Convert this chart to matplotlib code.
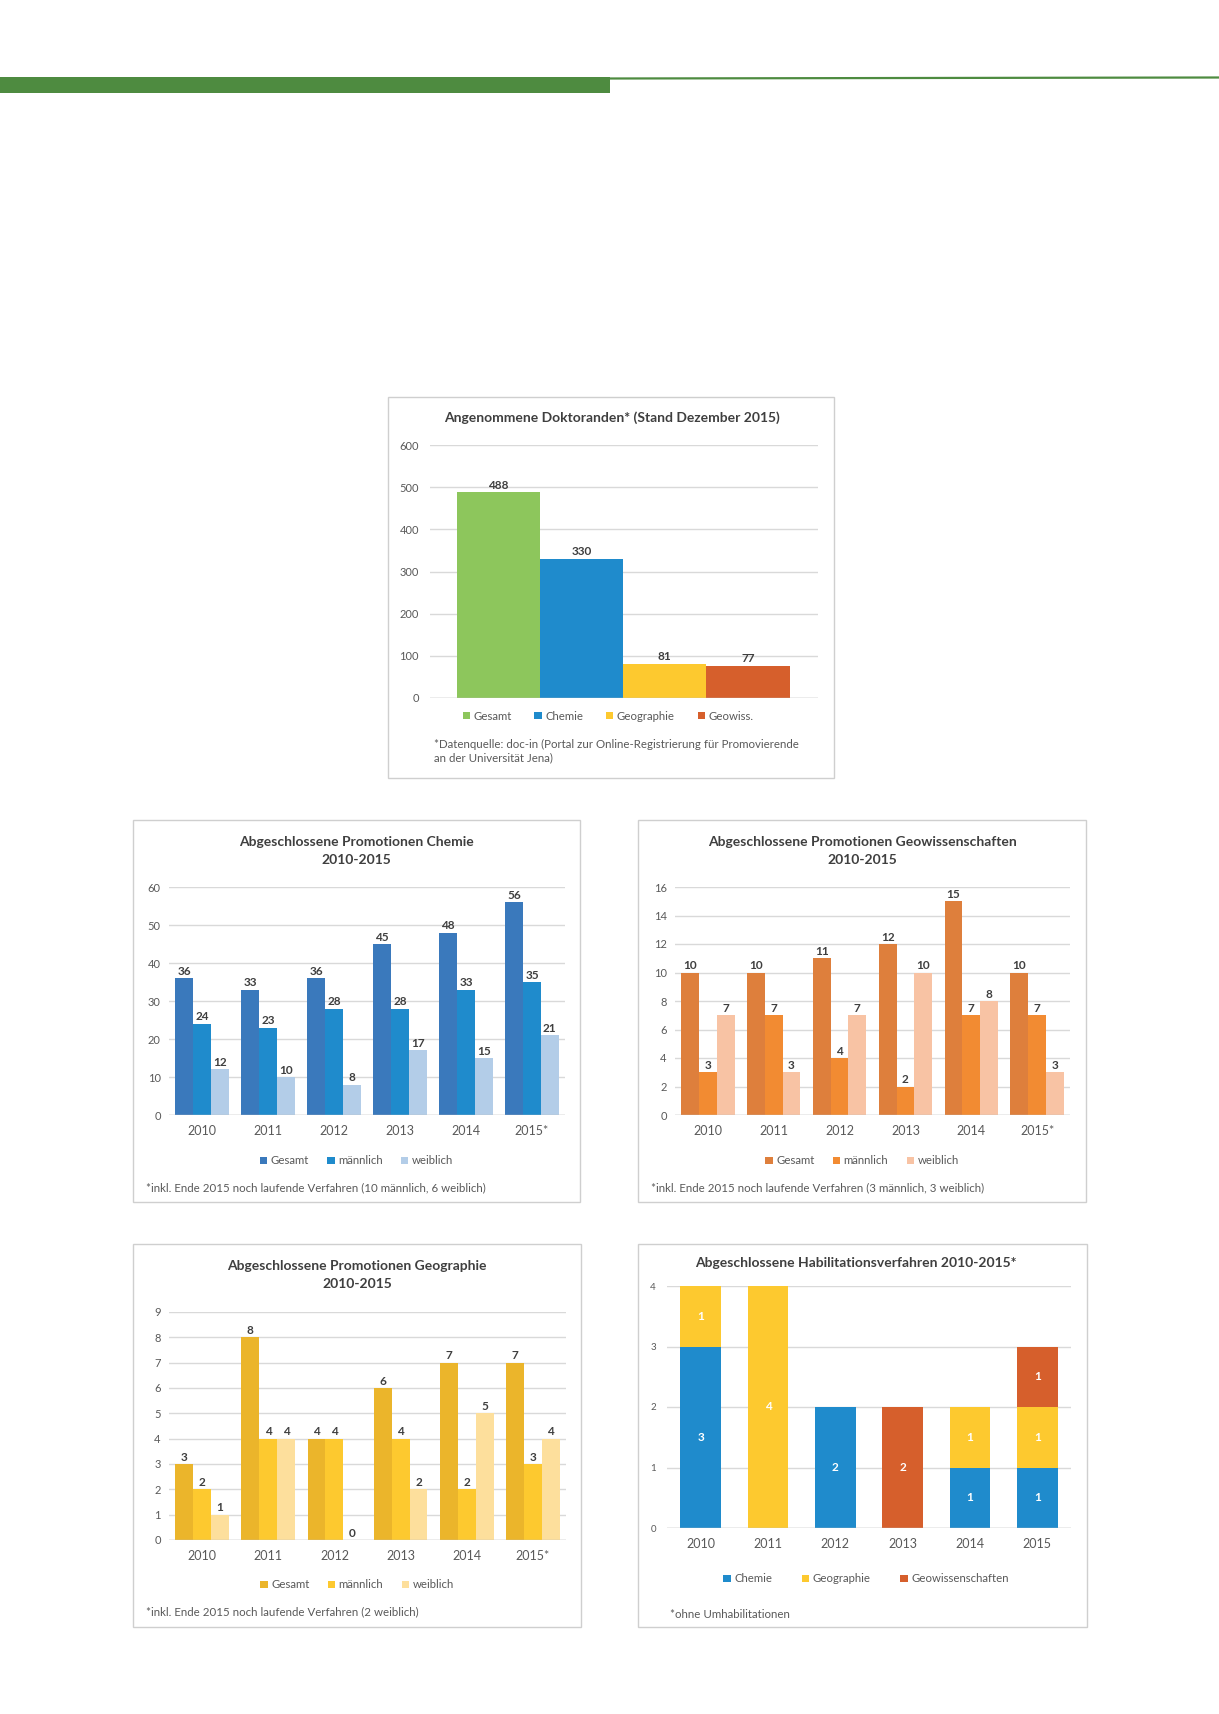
import numpy as np
import matplotlib
matplotlib.use("Agg")
import matplotlib.pyplot as plt
from matplotlib.patches import Rectangle, Patch
from matplotlib.lines import Line2D

plt.rcParams['font.family'] = ['Lato', 'DejaVu Sans']

# data
dok_labels = ["Gesamt", "Chemie", "Geographie", "Geowiss."]
dok_values = [488, 330, 81, 77]

years = ["2010", "2011", "2012", "2013", "2014", "2015*"]
series_names = ["Gesamt", "männlich", "weiblich"]
chemie_gesamt = [36, 33, 36, 45, 48, 56]
chemie_maennlich = [24, 23, 28, 28, 33, 35]
chemie_weiblich = [12, 10, 8, 17, 15, 21]
geowiss_gesamt = [10, 10, 11, 12, 15, 10]
geowiss_maennlich = [3, 7, 4, 2, 7, 7]
geowiss_weiblich = [7, 3, 7, 10, 8, 3]
geo_gesamt = [3, 8, 4, 6, 7, 7]
geo_maennlich = [2, 4, 4, 4, 2, 3]
geo_weiblich = [1, 4, 0, 2, 5, 4]

habil_years = ["2010", "2011", "2012", "2013", "2014", "2015"]
habil_names = ["Chemie", "Geographie", "Geowissenschaften"]
habil_chemie = [3, 0, 2, 0, 1, 1]
habil_geographie = [1, 4, 0, 0, 1, 1]
habil_geowiss = [0, 0, 0, 2, 0, 1]

W, H = 1219, 1714
fig = plt.figure(figsize=(W / 100, H / 100), dpi=100)

TXT = "#3F3F3F"
TICK = "#595959"
GRID = "#D9D9D9"


def fx(x):
    return x / W


def fy(y):
    return 1 - y / H


def px_axes(x0, y0, x1, y1):
    return fig.add_axes([fx(x0), fy(y1), (x1 - x0) / W, (y1 - y0) / H])


def box(x0, y0, x1, y1):
    fig.add_artist(Rectangle((fx(x0), fy(y1)), (x1 - x0) / W, (y1 - y0) / H,
                             transform=fig.transFigure, fill=False,
                             edgecolor="#CFCFCF", lw=1))


def style(ax, ymax, step, ypad=6, xpad=7, ysize=8, xsize=9):
    ax.set_ylim(0, ymax)
    ax.set_yticks(np.arange(0, ymax + step / 2, step))
    for s in ax.spines.values():
        s.set_visible(False)
    ax.yaxis.grid(True, color=GRID, lw=1)
    ax.axhline(0, color="#BFBFBF", lw=1, zorder=1)
    ax.set_axisbelow(True)
    ax.tick_params(length=0, colors=TICK)
    ax.tick_params(axis="y", pad=ypad, labelsize=ysize)
    ax.tick_params(axis="x", pad=xpad, labelsize=xsize)


def legend(handles_labels, cx, cy, spacing=1.6):
    handles = [Patch(facecolor=c, edgecolor="none") for c, _ in handles_labels]
    labels = [l for _, l in handles_labels]
    fig.legend(handles, labels, loc="center", bbox_to_anchor=(fx(cx), fy(cy)),
               ncol=len(handles), frameon=False, fontsize=8.2,
               handlelength=0.65, handleheight=0.65, handletextpad=0.3,
               columnspacing=spacing, labelcolor=TICK)


# header bar
fig.add_artist(Rectangle((0, fy(93)), fx(610), 16 / H, transform=fig.transFigure,
                         facecolor="#4E8B40", edgecolor="none"))
fig.add_artist(Line2D([fx(608), 1], [fy(78.5), fy(77.5)], transform=fig.transFigure,
                      color="#4E8B40", lw=1.6))

# chart 1: Angenommene Doktoranden
dok_colors = ["#8DC65C", "#1F8BCC", "#FDC92F", "#D65F2C"]
box(388, 397, 834, 778)
fig.text(fx(612), fy(418), "Angenommene Doktoranden* (Stand Dezember 2015)",
         ha="center", va="center", fontsize=10, fontweight="bold", color=TXT)
ax = px_axes(430, 445, 818, 698)
b = ax.bar(range(len(dok_values)), dok_values, width=1.0, color=dok_colors)
style(ax, 600, 100, ypad=8)
ax.set_xticks([])
ax.set_xlim(-0.82, 3.84)
ax.bar_label(b, padding=1, fontsize=8.5, fontweight="bold", color=TXT)
legend(list(zip(dok_colors, dok_labels)), 608, 716, spacing=2.0)
fig.text(fx(434), fy(744), "*Datenquelle: doc-in (Portal zur Online-Registrierung für Promovierende",
         ha="left", va="center", fontsize=8.3, color=TICK)
fig.text(fx(434), fy(758), "an der Universität Jena)",
         ha="left", va="center", fontsize=8.3, color=TICK)


def grouped(x0, y0, x1, y1, title, data, colors, ymax, step, note, axbox):
    box(x0, y0, x1, y1)
    cx = (x0 + x1) / 2
    fig.text(fx(cx), fy(y0 + 22), title[0], ha="center", va="center",
             fontsize=10, fontweight="bold", color=TXT)
    fig.text(fx(cx), fy(y0 + 40), title[1], ha="center", va="center",
             fontsize=10, fontweight="bold", color=TXT)
    ax = px_axes(*axbox)
    x = np.arange(len(years))
    w = 0.27
    for i, (vals, c) in enumerate(zip(data, colors)):
        bb = ax.bar(x + (i - 1) * w, vals, width=w, color=c)
        ax.bar_label(bb, padding=1, fontsize=8.5, fontweight="bold", color=TXT)
    style(ax, ymax, step)
    ax.set_xticks(x)
    ax.set_xticklabels(years)
    ax.set_xlim(-0.5, 5.5)
    legend(list(zip(colors, series_names)), cx, y0 + 341)
    fig.text(fx(x0 + 13), fy(y0 + 368), note, ha="left", va="center",
             fontsize=8.3, color=TICK)


grouped(133, 820, 580, 1202,
        ("Abgeschlossene Promotionen Chemie", "2010-2015"),
        [chemie_gesamt, chemie_maennlich, chemie_weiblich],
        ["#3A79BC", "#1F8BCC", "#B3CDE8"], 60, 10,
        "*inkl. Ende 2015 noch laufende Verfahren (10 männlich, 6 weiblich)",
        (169, 887, 565, 1115))

grouped(638, 820, 1086, 1202,
        ("Abgeschlossene Promotionen Geowissenschaften", "2010-2015"),
        [geowiss_gesamt, geowiss_maennlich, geowiss_weiblich],
        ["#DE7F3C", "#F28B32", "#F8C3A4"], 16, 2,
        "*inkl. Ende 2015 noch laufende Verfahren (3 männlich, 3 weiblich)",
        (675, 887, 1070, 1115))

grouped(133, 1244, 581, 1627,
        ("Abgeschlossene Promotionen Geographie", "2010-2015"),
        [geo_gesamt, geo_maennlich, geo_weiblich],
        ["#EBB52B", "#FDC92F", "#FDDF9C"], 9, 1,
        "*inkl. Ende 2015 noch laufende Verfahren (2 weiblich)",
        (169, 1312, 566, 1540))

# Habilitationen (stacked)
habil_colors = ["#1F8BCC", "#FDC92F", "#D65F2C"]
box(638, 1244, 1087, 1627)
fig.text(fx(856), fy(1263), "Abgeschlossene Habilitationsverfahren 2010-2015*",
         ha="center", va="center", fontsize=10, fontweight="bold", color=TXT)
ax = px_axes(667, 1286, 1071, 1528)
x = np.arange(len(habil_years))
bottom = np.zeros(len(habil_years))
for vals, c in zip([habil_chemie, habil_geographie, habil_geowiss], habil_colors):
    bb = ax.bar(x, vals, width=0.6, bottom=bottom, color=c)
    ax.bar_label(bb, labels=[str(v) if v else "" for v in vals], label_type="center",
                 fontsize=8.5, fontweight="bold", color="white")
    bottom += np.array(vals)
style(ax, 4, 1, ypad=8, ysize=7)
ax.set_xticks(x)
ax.set_xticklabels(habil_years)
ax.set_xlim(-0.5, 5.5)
legend(list(zip(habil_colors, habil_names)), 866, 1579, spacing=2.6)
fig.text(fx(670), fy(1614), "*ohne Umhabilitationen", ha="left", va="center",
         fontsize=8.3, color=TICK)

fig.savefig("out.png", dpi=100, facecolor="white")
